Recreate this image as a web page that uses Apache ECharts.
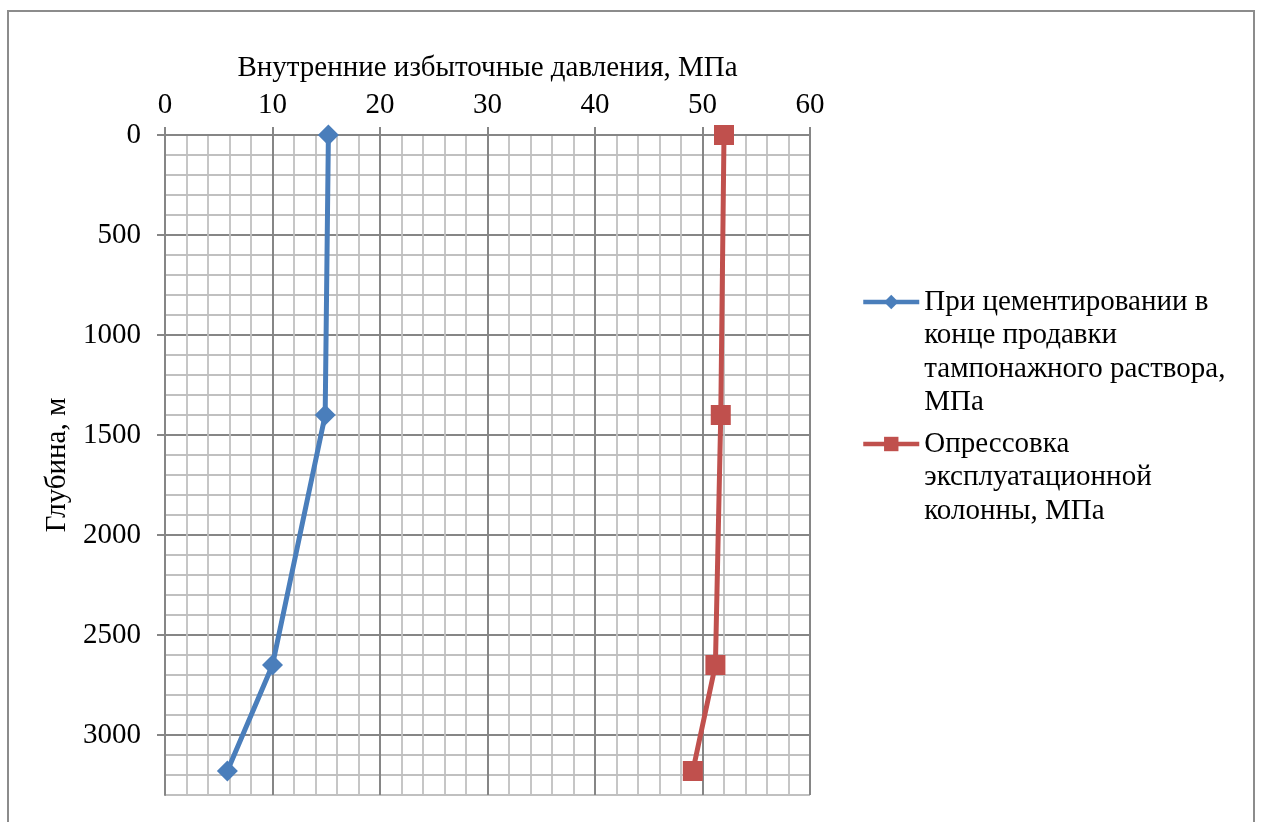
<!DOCTYPE html>
<html>
<head>
<meta charset="utf-8">
<script src="https://cdn.jsdelivr.net/npm/echarts@6/dist/echarts.min.js"></script>
<style>
  html, body { margin: 0; padding: 0; background: #fff; }
  #frame { position: absolute; left: 7px; top: 10px; width: 1248px; height: 830px;
           border: 2px solid #8c8c8c; box-sizing: border-box; }
  #chart { position: absolute; left: 0; top: 0; width: 1261px; height: 822px; }
</style>
</head>
<body>
<div id="frame"></div>
<div id="chart"></div>
<script>
// Depth points, m
const depthCement = [0, 1400, 2650, 3180];
const depthTest = [0, 1400, 2650, 3180];
// Internal excess pressure, MPa
const pressureCement = [15.2, 14.9, 10.0, 5.8];
const pressureTest = [52.0, 51.7, 51.2, 49.1];

const seriesNames = [
  'При цементировании в конце продавки тампонажного раствора, МПа',
  'Опрессовка эксплуатационной колонны, МПа'
];
const legendLines = [
  ['При цементировании в', 'конце продавки', 'тампонажного раствора,', 'МПа'],
  ['Опрессовка', 'эксплуатационной', 'колонны, МПа']
];

const yTicks = [0, 500, 1000, 1500, 2000, 2500, 3000];

const FONT = '"Liberation Serif", "Times New Roman", serif';
const FS = 29;
const LH = 33.5;
const MAJOR = '#868686';
const MINOR = '#c0c0c0';
const BLUE = '#4a7ebb';
const RED = '#c0504d';

function pairs(xs, ys) { return xs.map((x, i) => [x, ys[i]]); }

// One legend per series; blank leading lines keep the icon level with the first text line
function legendFor(i, iconCenterY) {
  const n = legendLines[i].length;
  return {
    orient: 'vertical',
    left: 856,
    top: iconCenterY - ((2 * n - 1) * LH) / 2 - 5,
    itemWidth: 56,
    itemHeight: 18,
    data: [{ name: seriesNames[i] }],
    formatter: () => '\n'.repeat(n - 1) + legendLines[i].join('\n'),
    lineStyle: { width: 4.5 },
    textStyle: { fontFamily: FONT, fontSize: FS, color: '#000', lineHeight: LH }
  };
}

const labelStyle = { fontFamily: FONT, fontSize: FS, color: '#000' };
const hiddenAxisParts = {
  axisLine: { show: false }, axisTick: { show: false }, axisLabel: { show: false }
};

const chart = echarts.init(document.getElementById('chart'), null, { renderer: 'canvas' });
chart.setOption({
  animation: false,
  backgroundColor: 'transparent',
  textStyle: { fontFamily: FONT },
  grid: { left: 165, top: 135, width: 645, height: 660 },
  legend: [legendFor(0, 302), legendFor(1, 444)],
  xAxis: [
    {
      // fine grid, every 2 MPa
      type: 'value', position: 'top', min: 0, max: 60, interval: 2,
      ...hiddenAxisParts,
      splitLine: { show: true, lineStyle: { color: ['transparent', MINOR, MINOR, MINOR, MINOR], width: 1.8 } }
    },
    {
      type: 'value', position: 'top', min: 0, max: 60, interval: 10,
      name: 'Внутренние избыточные давления, МПа',
      nameLocation: 'middle',
      nameGap: 52,
      nameTextStyle: labelStyle,
      axisLine: { show: true, lineStyle: { color: MAJOR, width: 2 } },
      axisTick: { show: true, inside: false, length: 8, lineStyle: { color: MAJOR, width: 2 } },
      axisLabel: { margin: 15, ...labelStyle },
      splitLine: { show: true, lineStyle: { color: MAJOR, width: 2 } }
    }
  ],
  yAxis: [
    {
      // fine grid, every 100 m
      type: 'value', inverse: true, min: 0, max: 3300, interval: 100,
      ...hiddenAxisParts,
      splitLine: { show: true, lineStyle: { color: ['transparent', MINOR, MINOR, MINOR, MINOR], width: 1.8 } }
    },
    {
      type: 'value', position: 'left', inverse: true, min: 0, max: 3300, interval: 500,
      name: 'Глубина, м',
      nameLocation: 'middle',
      nameRotate: 90,
      nameGap: 85,
      nameTextStyle: labelStyle,
      axisLine: { show: true, lineStyle: { color: MAJOR, width: 2 } },
      axisTick: { show: true, inside: false, length: 8, customValues: yTicks,
                  lineStyle: { color: MAJOR, width: 2 } },
      axisLabel: { customValues: yTicks, margin: 24, formatter: v => String(v), ...labelStyle },
      splitLine: { show: true, lineStyle: { color: MAJOR, width: 2 } }
    }
  ],
  series: [
    {
      name: seriesNames[0],
      type: 'line',
      xAxisIndex: 1, yAxisIndex: 1,
      data: pairs(pressureCement, depthCement),
      symbol: 'diamond',
      symbolSize: 21,
      lineStyle: { color: BLUE, width: 5 },
      itemStyle: { color: BLUE }
    },
    {
      name: seriesNames[1],
      type: 'line',
      xAxisIndex: 1, yAxisIndex: 1,
      data: pairs(pressureTest, depthTest),
      symbol: 'rect',
      symbolSize: 20,
      lineStyle: { color: RED, width: 5 },
      itemStyle: { color: RED }
    }
  ]
});
</script>
</body>
</html>
